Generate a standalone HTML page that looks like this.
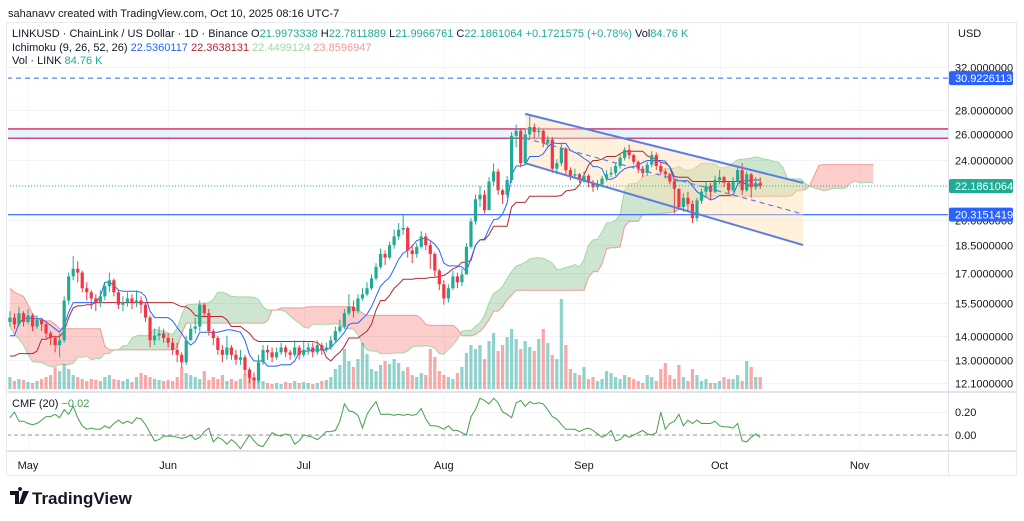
<!DOCTYPE html>
<html><head><meta charset="utf-8">
<style>
html,body{margin:0;padding:0;background:#fff;}
body{width:1024px;height:521px;overflow:hidden;font-family:"Liberation Sans",sans-serif;color:#131722;}
svg{display:block;}
</style></head>
<body>
<svg id="chart" width="1024" height="521" viewBox="0 0 1024 521" xmlns="http://www.w3.org/2000/svg" font-family="Liberation Sans, sans-serif">
  <defs>
    <clipPath id="mainClip"><rect x="8" y="23" width="940" height="368"/></clipPath>
    <clipPath id="cmfClip"><rect x="8" y="393" width="940" height="56"/></clipPath>
  </defs>
  <rect x="0" y="0" width="1024" height="521" fill="#ffffff"/>
  <text x="8" y="17" font-size="11" fill="#131722">sahanavv created with TradingView.com, Oct 10, 2025 08:16 UTC-7</text>
  <rect x="6.5" y="22.5" width="1010" height="453" fill="none" stroke="#e9ebef"/>
  <line x1="948.5" y1="22" x2="948.5" y2="476" stroke="#e0e3eb"/>
  <line x1="7" y1="392" x2="1016" y2="392" stroke="#e0e3eb" stroke-width="2"/>
  <line x1="7" y1="451" x2="1016" y2="451" stroke="#e0e3eb" stroke-width="2"/>
  <g id="grid"></g>
  <g id="main" clip-path="url(#mainClip)"></g>
  <g id="cmf" clip-path="url(#cmfClip)"></g>
  <g id="axes"></g>
  <g font-size="11">
    <text x="12" y="37"><tspan fill="#131722">LINKUSD · ChainLink / US Dollar · 1D · Binance  O</tspan><tspan fill="#22ab94">21.9973338</tspan><tspan fill="#131722">  H</tspan><tspan fill="#22ab94">22.7811889</tspan><tspan fill="#131722">  L</tspan><tspan fill="#22ab94">21.9966761</tspan><tspan fill="#131722">  C</tspan><tspan fill="#22ab94">22.1861064  +0.1721575 (+0.78%)</tspan><tspan fill="#131722">  Vol</tspan><tspan fill="#22ab94">84.76 K</tspan></text>
    <text x="12" y="51"><tspan fill="#131722">Ichimoku (9, 26, 52, 26)  </tspan><tspan fill="#2962ff">22.5360117</tspan><tspan fill="#b22833">  22.3638131</tspan><tspan fill="#a5d6a7">  22.4499124</tspan><tspan fill="#ef9a9a">  23.8596947</tspan></text>
    <text x="12" y="64"><tspan fill="#131722">Vol · LINK  </tspan><tspan fill="#22ab94">84.76 K</tspan></text>
    <text x="12" y="407"><tspan fill="#131722">CMF (20)  </tspan><tspan fill="#43a047">−0.02</tspan></text>
  </g>
  <text x="958" y="37" font-size="11" fill="#131722">USD</text>
  <g>
    <path d="M10 491 h9 v13 h-4 v-9 h-5z M20 491 a2 2 0 1 1 0.1 0z M23 491 h6 l-6 13 h-4z" fill="#131722"/>
    <text x="32" y="504" font-size="17" fill="#131722" font-weight="bold">TradingView</text>
  </g>
</svg>
<script>
// ---------- data ----------
const preClose = [19.5,19.0,18.6,18.9,18.2,18.5,19.2,19.0,18.7,18.4,18.0,17.6,18.1,17.8,
17.2,16.5,16.8,15.9,15.2,14.8,15.3,16.0,
16.5,17.4,15.9,15.6,15.0,14.7,14.9,14.6,13.8,13.4,13.9,14.1,13.6,14.2,14.5,
14.3,14.8,14.4,15.1,14.6,14.2,14.3,15.0,15.4,15.6,15.0,14.6,14.0,13.6,13.7,13.3,
13.6,13.2,12.8,12.6,12.4,11.8,11.2,11.4,12.9,12.4,12.6,13.0,13.2,12.9,12.7,
12.6,12.9,12.8,13.0,12.9,13.8,14.2,14.6,14.3,14.8,14.6];
const close = [14.8,14.5,15.0,14.6,14.9, 14.4,14.7,14.5,14.1,13.9, 13.6,13.8,15.6,16.8,17.2, 17.0,16.2,16.0,15.7,15.5,
15.8,16.3,16.6,16.0,15.4, 15.5,15.7,15.5,15.6,15.4, 14.8,13.8,14.0,14.1,13.9, 13.7,13.4,13.2,12.9,13.8,
14.3,14.4,15.4,15.0,14.2, 13.9,13.4,13.2,13.5,13.2, 13.0,13.1,12.6,12.3,12.2, 12.9,13.4,13.3,13.1,13.3,
13.5,13.3,13.2,13.5,13.2, 13.4,13.5,13.3,13.6,13.4, 13.5,13.8,14.2,14.4,15.0, 15.3,15.1,15.7,15.9,16.2,
16.7,17.3,18.0,17.8,18.5, 19.0,19.4,19.5,18.2,18.0, 18.4,19.0,18.5,18.0,17.1, 16.4,15.7,16.2,16.8,16.5,
16.9,18.4,19.9,21.3,21.6, 20.6,22.5,23.2,21.9,21.6, 22.6,25.9,26.3,23.8,26.0, 26.6,26.2,26.3,25.3,25.6,
23.4,23.8,24.9,23.3,22.9, 23.0,22.6,22.9,22.4,22.1, 22.3,22.7,23.0,23.1,23.6, 24.2,24.8,24.4,23.9,23.4,
23.1,23.7,24.4,23.6,23.2, 23.0,22.5,22.0,20.8,21.4, 21.0,20.1,21.2,21.8,22.2, 21.8,22.6,22.8,22.4,21.9,
22.5,23.3,21.9,23.0,22.1, 22.4,22.19];
const high = [15.1,15.0,15.3,15.1,15.2, 15.0,14.9,14.8,14.6,14.2, 14.0,14.1,15.8,17.0,17.9, 17.6,17.1,16.5,16.1,15.9,
16.1,16.5,17.0,16.7,16.1, 15.8,16.0,15.9,16.1,15.8, 15.5,14.9,14.3,14.4,14.3, 14.1,13.9,13.7,13.3,14.0,
14.5,14.8,15.6,15.5,15.2, 14.3,14.0,13.6,14.0,13.6, 13.4,13.4,13.2,12.7,12.5, 13.2,13.6,13.6,13.5,13.5,
13.7,13.6,13.4,13.8,13.6, 13.8,13.7,13.7,13.8,13.7, 13.7,14.0,14.4,14.7,15.2, 15.9,15.6,15.9,16.2,16.5,
16.9,17.5,18.3,18.2,18.7, 19.4,19.8,20.3,19.6,18.5, 18.6,19.3,19.2,18.7,18.1, 17.2,16.6,16.4,17.1,17.0,
17.2,18.6,20.1,21.6,22.2, 21.9,22.8,23.8,23.4,22.0, 22.9,26.2,26.8,26.5,26.4, 27.6,26.9,26.6,26.4,25.9,
25.8,24.1,25.3,25.0,23.5, 23.4,23.1,23.2,23.0,22.6, 22.6,22.9,23.3,23.5,23.8, 24.5,25.0,25.2,24.5,24.0,
23.6,23.9,24.7,24.6,23.8, 23.4,23.1,22.7,22.0,21.7, 21.8,21.2,21.4,22.0,22.5, 22.4,22.9,23.3,22.9,22.5,
22.8,23.6,23.8,23.2,23.1, 22.8,22.78];
const low = [14.4,14.3,14.4,14.4,14.5, 14.2,14.3,14.2,13.9,13.6, 13.3,13.1,13.7,15.4,16.6, 16.5,16.0,15.6,15.2,15.1,
15.3,15.6,16.0,15.8,15.2, 15.1,15.3,15.2,15.3,15.0, 14.6,13.5,13.6,13.8,13.7, 13.5,13.2,12.9,12.7,12.8,
13.8,14.1,14.2,14.8,14.0, 13.6,13.2,12.9,13.0,13.0, 12.8,12.8,12.4,12.1,11.9, 12.1,12.8,13.0,12.9,13.0,
13.2,13.1,13.0,13.1,13.0, 13.1,13.2,13.1,13.2,13.2, 13.3,13.4,13.7,14.1,14.3, 14.9,14.8,15.0,15.6,15.8,
16.1,16.6,17.2,17.4,17.7, 18.3,18.8,19.1,17.8,17.5, 17.8,18.3,18.2,17.2,16.8, 16.1,15.4,15.5,16.1,16.2,
16.3,16.9,18.3,19.7,20.8, 20.4,20.6,22.2,21.6,21.0, 21.4,22.4,25.0,23.5,23.7, 25.6,25.7,25.8,25.0,25.0,
23.1,23.0,23.6,23.0,22.6, 22.7,22.4,22.4,22.1,21.8, 21.9,22.1,22.5,22.8,22.9, 23.4,24.0,24.1,23.7,23.1,
22.8,22.9,23.5,23.3,23.0, 22.7,22.3,20.4,20.6,20.5, 20.6,19.8,19.9,21.0,21.5, 21.3,21.7,22.3,22.1,21.7,
21.8,22.2,21.6,21.8,21.4, 21.9,22.0];
const volume = [12,8,10,9,7, 6,8,10,12,14, 22,18,25,20,14, 12,10,8,10,9, 8,12,14,10,9, 8,10,7,12,16,
14,12,10,9,8, 9,8,12,22,16, 14,12,10,18,9, 12,10,14,8,10, 8,10,15,20,12, 18,8,6,5,6,
5,7,6,8,6, 7,6,5,6,8, 9,12,20,24,40, 28,22,30,46,35, 20,18,24,28,25, 30,26,18,22,14,
12,16,14,40,32, 18,14,12,10,16, 22,36,44,40,44, 30,48,56,38,44, 52,60,50,40,48, 42,38,50,60,46,
34,30,90,44,20, 16,14,22,10,12, 8,10,18,16,12, 10,14,12,10,8, 6,14,12,8,20, 26,14,10,24,12,
8,20,14,8,10, 6,6,8,12,10, 10,14,8,28,22, 12,12];
const cmf = [0.15,0.20,0.12,0.12,0.10, 0.09,0.10,0.13,0.16,0.16, 0.18,0.15,0.22,0.18,0.25, 0.15,0.08,0.05,0.06,0.05,
0.05,0.08,0.06,0.10,0.13, 0.10,0.12,0.10,0.15,0.14, 0.09,0.02,-0.05,-0.04,-0.01, -0.01,-0.01,-0.02,-0.03,-0.02,
0.00,-0.04,-0.02,0.03,0.06, -0.06,-0.02,-0.04,-0.08,-0.04, -0.07,-0.12,-0.06,0.00,-0.05, -0.09,-0.10,-0.04,0.02,0.00,
-0.01,0.01,0.00,-0.08,-0.05, 0.00,-0.01,-0.02,-0.04,-0.01, 0.03,0.03,0.04,0.12,0.27, 0.21,0.20,0.17,0.06,0.18,
0.24,0.29,0.18,0.18,0.18, 0.17,0.18,0.17,0.18,0.17, 0.18,0.23,0.14,0.08,0.08, 0.07,0.05,0.08,0.04,0.04,
0.02,0.00,0.16,0.22,0.32, 0.30,0.27,0.32,0.28,0.20, 0.18,0.15,0.28,0.30,0.25, 0.29,0.27,0.28,0.27,0.22,
0.16,0.14,0.09,0.05,0.05, 0.05,0.03,0.05,0.06,0.04, 0.01,-0.02,0.00,0.04,-0.05, -0.04,0.00,-0.02,0.00,0.02,
0.04,0.01,0.00,0.02,0.20, 0.05,0.10,0.12,0.18,0.08, 0.13,0.10,0.13,0.10,0.10, 0.10,0.12,0.08,0.07,0.07,
0.06,0.10,-0.05,-0.06,-0.02, 0.01,-0.02];
const priceTicks = [32,28,26,24,20,18.5,17,15.5,14,13,12.1];
const priceTickLabels = ["32.0000000","28.0000000","26.0000000","24.0000000","20.0000000","18.5000000","17.0000000","15.5000000","14.0000000","13.0000000","12.1000000"];
const cmfTicks = [0.20, 0.00];
const cmfTickLabels = ["0.20","0.00"];
const monthLabels = ["May","Jun","Jul","Aug","Sep","Oct","Nov"];
const monthDays = [0,31,61,92,123,153,184];
const levelResist = [26.45, 25.7];
const levelTop = 30.9226113;
const levelSupport = 20.3151419;
const lastPrice = 22.1861064;
const channelDays = [110, 171.5];
const channelUpper = [27.7, 22.4];
const channelLower = [23.8, 18.5];
const channelMid = [25.7, 20.35];

// ---------- axes ----------
const FIRST_DAY = -4;
function xOf(d){ return 28 + d*4.52; }
function xIdx(i){ return xOf(i + FIRST_DAY); }
function yOf(p){ return 67 + (Math.log(32) - Math.log(p))*325; }
function volY(v){ return 389 - v; }
function cmfY(v){ return 435 - v*115; }

const NS = 'http://www.w3.org/2000/svg';
function mk(tag, attrs, parent){
  const el = document.createElementNS(NS, tag);
  for (const k in attrs) el.setAttribute(k, attrs[k]);
  parent.appendChild(el);
  return el;
}
const grid = document.getElementById('grid');
const main = document.getElementById('main');
const cmfG = document.getElementById('cmf');
const axes = document.getElementById('axes');

priceTicks.forEach(function(p, i){
  const y = Math.round(yOf(p)) + 0.5;
  const g = mk('line', {x1:7, x2:948, y1:y, y2:y, stroke:'#f0f3fa'}, grid);
  
  
  const t = mk('text', {x:955, y:y+4, 'font-size':11, fill:'#131722'}, axes);
  
  
  t.textContent = priceTickLabels[i];
});
[0.2, 0].forEach(function(v){
  const y = Math.round(cmfY(v)) + 0.5;
  const g = mk('line', {x1:7, x2:948, y1:y, y2:y, stroke:'#f0f3fa'}, grid);
  
  
});
cmfTicks.forEach(function(v, i){
  const t = mk('text', {x:955, y:cmfY(v)+4, 'font-size':11, fill:'#131722'}, axes);
  
  
  t.textContent = cmfTickLabels[i];
});
monthDays.forEach(function(d, i){
  const x = Math.round(xOf(d)) + 0.5;
  const g = mk('line', {x1:x, x2:x, y1:23, y2:450, stroke:'#f3f5f9'}, grid);
  
  
  const t = mk('text', {x:xOf(d), y:469, 'font-size':11, fill:'#131722', 'text-anchor':'middle'}, axes);
  
  
  t.textContent = monthLabels[i];
});

// ---------- ichimoku ----------
const allH = preClose.concat(high);
const allL = preClose.concat(low);
const OFF = preClose.length;
function midRange(end, n){
  let h = -Infinity, l = Infinity;
  for (let k = Math.max(0, end-n+1); k <= end; k++){ h = Math.max(h, allH[k]); l = Math.min(l, allL[k]); }
  return (h + l)/2;
}
const N = close.length;
const tenkan = [], kijun = [];
for (let i = 0; i < N; i++){ tenkan.push(midRange(i+OFF, 9)); kijun.push(midRange(i+OFF, 26)); }
const spanA = [], spanB = [];
for (let i = -25; i < N; i++){
  const src = i + OFF;
  spanA.push({i: i+25, v:(midRange(src,9)+midRange(src,26))/2});
  spanB.push({i: i+25, v:midRange(src,52)});
}
// group cloud into same-colour runs
let runStart = 0;
function drawRun(s, e, up){
  const pts = [];
  for (let k = s; k <= e; k++) pts.push(xIdx(spanA[k].i).toFixed(1)+','+yOf(spanA[k].v).toFixed(1));
  for (let k = e; k >= s; k--) pts.push(xIdx(spanB[k].i).toFixed(1)+','+yOf(spanB[k].v).toFixed(1));
  const q = mk('polygon', {points: pts.join(' '), fill: up ? 'rgba(67,160,71,0.26)' : 'rgba(244,67,54,0.26)'}, main);
  
  
}
for (let k = 1; k <= spanA.length; k++){
  const prevUp = spanA[k-1].v >= spanB[k-1].v;
  const curUp = k < spanA.length ? spanA[k].v >= spanB[k].v : !prevUp;
  if (curUp !== prevUp){ drawRun(runStart, Math.min(k, spanA.length-1), prevUp); runStart = k; }
}
function linePath(pts){ return pts.map(function(p, k){ return (k?'L':'M')+p[0].toFixed(1)+' '+p[1].toFixed(1); }).join(' '); }
const la = mk('path', {d: linePath(spanA.map(function(s){return [xIdx(s.i), yOf(s.v)];})), fill:'none', stroke:'#a5d6a7', 'stroke-width':1}, main);


const lb = mk('path', {d: linePath(spanB.map(function(s){return [xIdx(s.i), yOf(s.v)];})), fill:'none', stroke:'#ef9a9a', 'stroke-width':1}, main);



// ---------- levels & channel ----------
const rz = mk('rect', {x:7, y:yOf(levelResist[0]), width:941, height:yOf(levelResist[1])-yOf(levelResist[0]), fill:'#e8f4fd'}, main);


levelResist.forEach(function(p){
  const l = mk('line', {x1:7, x2:948, y1:yOf(p), y2:yOf(p), stroke:'#d1477f', 'stroke-width':1.6}, main);
  
  
});
const tl = mk('line', {x1:7, x2:948, y1:yOf(levelTop), y2:yOf(levelTop), stroke:'#2962ff', 'stroke-width':1, 'stroke-dasharray':'5,4'}, main);


const sl = mk('line', {x1:7, x2:948, y1:yOf(levelSupport), y2:yOf(levelSupport), stroke:'#2962ff', 'stroke-width':1.2}, main);


const cx0 = xOf(channelDays[0]), cx1 = xOf(channelDays[1]);
const cf = mk('polygon', {points: cx0+','+yOf(channelUpper[0])+' '+cx1+','+yOf(channelUpper[1])+' '+cx1+','+yOf(channelLower[1])+' '+cx0+','+yOf(channelLower[0]), fill:'rgba(255,224,178,0.45)'}, main);



for (let i = 0; i < N; i++){
  const o = i ? close[i-1] : 14.6;
  const up = close[i] >= o;
  const b = mk('rect', {x:xIdx(i)-1.6, y:volY(volume[i]), width:3.2, height:volume[i], fill: up ? 'rgba(38,166,154,0.5)' : 'rgba(239,83,80,0.5)'}, main);
  
  
}
const kl = mk('path', {d: linePath(kijun.map(function(v,i){return [xIdx(i), yOf(v)];})), fill:'none', stroke:'#b22833', 'stroke-width':1}, main);


const tk = mk('path', {d: linePath(tenkan.map(function(v,i){return [xIdx(i), yOf(v)];})), fill:'none', stroke:'#2962ff', 'stroke-width':1}, main);



for (let i = 0; i < N; i++){
  const o = i ? close[i-1] : 14.6;
  const c = close[i];
  const up = c >= o;
  const col = up ? '#22ab94' : '#f23645';
  const x = xIdx(i);
  const h = Math.max(high[i], o, c), l = Math.min(low[i], o, c);
  const w = mk('line', {x1:x, x2:x, y1:yOf(h), y2:yOf(l), stroke:col, 'stroke-width':1}, main);
  
  
  const top = yOf(Math.max(o,c)), bot = yOf(Math.min(o,c));
  const r = mk('rect', {x:x-1.6, y:top, width:3.2, height:Math.max(1, bot-top), fill:col}, main);
  
  
}

const cu = mk('line', {x1:cx0, y1:yOf(channelUpper[0]), x2:cx1, y2:yOf(channelUpper[1]), stroke:'#5b7fe0', 'stroke-width':2}, main);


const cl = mk('line', {x1:cx0, y1:yOf(channelLower[0]), x2:cx1, y2:yOf(channelLower[1]), stroke:'#5b7fe0', 'stroke-width':2}, main);


const cm = mk('line', {x1:cx0, y1:yOf(channelMid[0]), x2:cx1, y2:yOf(channelMid[1]), stroke:'#5b7fe0', 'stroke-width':1.2, 'stroke-dasharray':'5,4'}, main);


const lp = mk('line', {x1:7, x2:948, y1:yOf(lastPrice), y2:yOf(lastPrice), stroke:'#22ab94', 'stroke-width':1, 'stroke-dasharray':'1,2'}, main);



[[levelTop,'#2962ff','30.9226113'],[lastPrice,'#22ab94','22.1861064'],[levelSupport,'#2962ff','20.3151419']].forEach(function(a){
  const y = yOf(a[0]);
  const r = mk('rect', {x:949, y:y-7, width:64, height:14, rx:2, fill:a[1]}, axes);
  
  
  const t = mk('text', {x:955, y:y+4, 'font-size':11, fill:'#ffffff'}, axes);
  
  
  t.textContent = a[2];
});

const zl = mk('line', {x1:7, x2:948, y1:cmfY(0), y2:cmfY(0), stroke:'#9598a1', 'stroke-width':1, 'stroke-dasharray':'4,3'}, cmfG);


const cp = mk('path', {d: linePath(cmf.map(function(v,i){return [xIdx(i), cmfY(v)];})), fill:'none', stroke:'#43a047', 'stroke-width':1}, cmfG);


</script>
</body></html>
